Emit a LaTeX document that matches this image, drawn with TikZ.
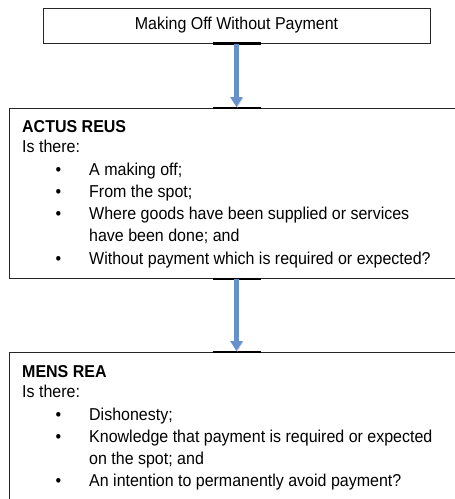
\documentclass[tikz,border=0pt]{standalone}
\usepackage{fontspec}
\setmainfont[FakeStretch=0.93]{Liberation Sans}
\usepackage{array}
\usetikzlibrary{arrows.meta}

\definecolor{flowblue}{RGB}{101,146,204}
\newcommand{\bul}{\makebox[67pt][l]{\hspace*{33.5pt}\textbullet}}
\newcommand{\cont}{\hspace*{67pt}}

\begin{document}
\begin{tikzpicture}[x=1pt,y=-1pt,
  box/.style={draw=black!85,line width=1pt,inner sep=0pt},
  flow/.style={flowblue,line width=4.5pt,shorten >=1pt,
    -{Triangle[width=12pt,length=10pt]},
    preaction={draw=black!15,transform canvas={shift={(0.8pt,-0.8pt)}}}},
  joint/.style={black,line width=2.2pt},
  txt/.style={anchor=base west,inner sep=0pt,font=\fontsize{17.2}{22.3}\selectfont}]
\clip (0,0) rectangle (455,499);
\node[box,minimum width=387pt,minimum height=35pt,font=\fontsize{17.2}{19}\selectfont] (title) at (236.5,25.5) {Making Off Without Payment};
\node[box,minimum width=455pt,minimum height=170pt,anchor=north] (actus) at (236.5,108) {};
\node[box,minimum width=455pt,minimum height=165pt,anchor=north] (mens) at (236.5,352) {};
\node[txt] (actustext) at (22,132) {\begin{tabular}[t]{@{}l@{}}
  \textbf{ACTUS REUS}\\[-2.3pt]
  Is there:\\[0.7pt]
  \bul A making off;\\
  \bul From the spot;\\
  \bul Where goods have been supplied or services\\
  \cont have been done; and\\
  \bul Without payment which is required or expected?
\end{tabular}};
\node[txt] (menstext) at (22,377) {\begin{tabular}[t]{@{}l@{}}
  \textbf{MENS REA}\\[-2.3pt]
  Is there:\\[0.7pt]
  \bul Dishonesty;\\
  \bul Knowledge that payment is required or expected\\
  \cont on the spot; and\\
  \bul An intention to permanently avoid payment?
\end{tabular}};
\draw[joint] ([xshift=-24pt]title.south) -- ([xshift=24pt]title.south);
\draw[joint] ([xshift=-24pt]actus.north) -- ([xshift=24pt]actus.north);
\draw[joint] ([xshift=-24pt]actus.south) -- ([xshift=24pt]actus.south);
\draw[joint] ([xshift=-24pt]mens.north) -- ([xshift=24pt]mens.north);
\draw[flow] (title) -- (actus);
\draw[flow] (actus.south) -- (mens.north);
\end{tikzpicture}
\end{document}
